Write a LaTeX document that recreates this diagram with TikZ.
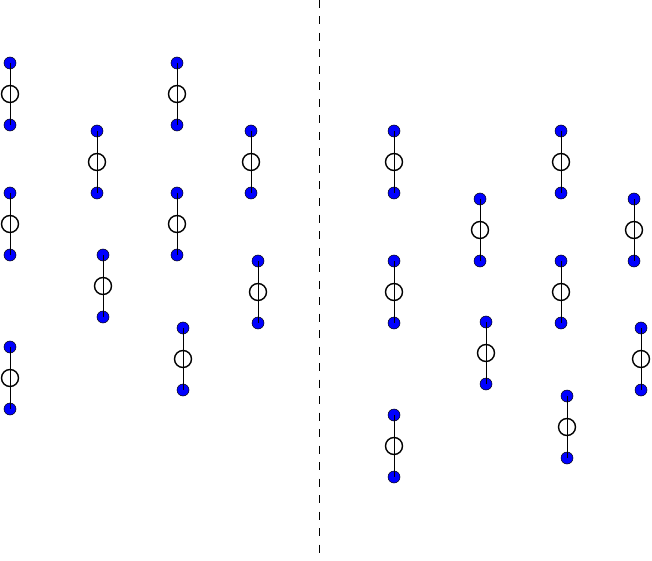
\documentclass[tikz,border=0pt]{standalone}
\begin{document}
\begin{tikzpicture}[x=1pt,y=-1pt,
  ball/.style={circle,draw=black,line width=0.5pt,fill=blue,inner sep=0pt,minimum size=12pt},
  hole/.style={circle,draw=black,line width=1.4pt,inner sep=0pt,minimum size=17pt},
  rod/.style={line width=0.6pt,black}]
\useasboundingbox (0,0) rectangle (652,561);
\foreach \n/\x/\y in {a/10/63, b/97/131, c/177/63, d/251/131, e/10/193, f/177/193, g/103/255, h/258/261, i/10/347, j/183/328,
  k/394/131, l/561/131, m/480/199, n/634/199, o/394/261, p/561/261, q/486/322, r/641/328, s/394/415, t/567/396}{
  \node[ball] (\n1) at (\x,\y) {};
  \node[ball] (\n3) at (\x,\y+62) {};
  \node[hole] (\n2) at (\x,\y+31) {};
  \draw[rod] (\n1.center) -- (\n2.north);
  \draw[rod] (\n2.north) -- (\n2.south);
  \draw[rod] (\n2.south) -- (\n3.center);
}
\coordinate (top) at (319.5,0);
\coordinate (bot) at (319.5,553);
\draw[dashed,dash pattern=on 8pt off 8.5pt,line width=0.8pt] (top) -- (bot);
\end{tikzpicture}
\end{document}
